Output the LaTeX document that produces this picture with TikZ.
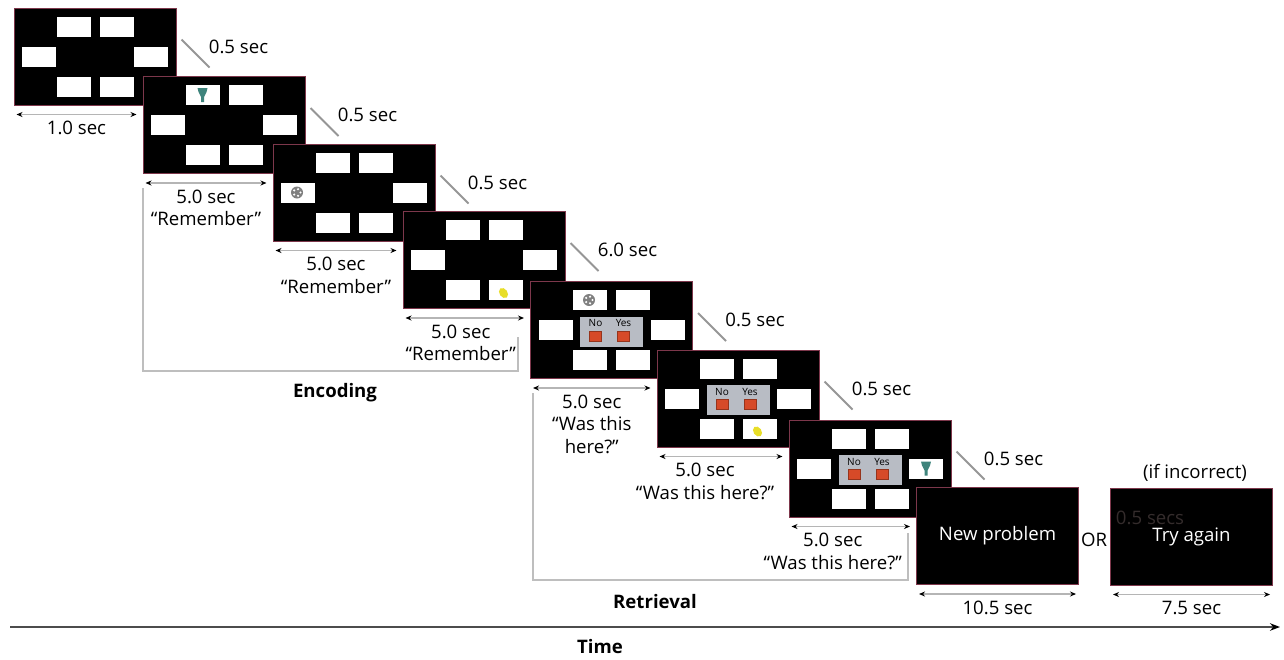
\documentclass[tikz,border=0pt]{standalone}
\usepackage{fontspec}
\setmainfont{Open Sans}
\usetikzlibrary{arrows.meta,positioning,calc}

\definecolor{scrborder}{RGB}{125,55,75}
\definecolor{panelgray}{RGB}{184,188,196}
\definecolor{btnred}{RGB}{214,74,40}
\definecolor{icongreen}{RGB}{62,132,124}
\definecolor{iconyellow}{RGB}{232,222,40}
\definecolor{linegray}{RGB}{150,150,150}
\definecolor{brkgray}{RGB}{190,190,190}
\definecolor{faint}{RGB}{52,44,44}

\begin{document}
\begin{tikzpicture}[
	x = 0.5pt, y = -0.5pt, % one unit is one pixel of the layout
	font = \fontsize{9.3}{11.3}\selectfont,
	scr/.style={rectangle, fill=black, draw=scrborder, line width=0.5pt, minimum width=81pt, minimum height=48.5pt, inner sep=0pt, text=white},
	slot/.style={rectangle, fill=white, minimum width=17pt, minimum height=10pt, inner sep=0pt},
	panel/.style={rectangle, fill=panelgray, minimum width=31.5pt, minimum height=15pt, inner sep=0pt},
	btn/.style={rectangle, fill=btnred, draw=btnred!70!black, line width=0.3pt, minimum width=6pt, minimum height=5pt, inner sep=0pt},
	btnlbl/.style={font=\fontsize{5}{6}\selectfont, inner sep=0pt},
	gap/.style={draw=linegray, line width=1pt},
	dur/.style={draw=linegray!70, line width=0.8pt, arrows={Stealth[black,length=3pt,width=2.5pt]-Stealth[black,length=3pt,width=2.5pt]}},
	lbl/.style={align=center, inner sep=1pt, anchor=north, yshift=-2pt},
	brk/.style={draw=brkgray, line width=0.8pt},
	phase/.style={font=\bfseries\fontsize{9.3}{11}\selectfont},
	]

	\useasboundingbox (0,0) rectangle (1284,659);

	% Screens
	\node[scr] (s1) at (95,56.5) {};
	\node[scr] (s2) at (224,125) {};
	\node[scr] (s3) at (354,192.5) {};
	\node[scr] (s4) at (484,260) {};
	\node[scr] (s5) at (611.5,330) {};
	\node[scr] (s6) at (738,398.5) {};
	\node[scr] (s7) at (870,468.5) {};
	\node[scr] (s8) at (997.5,536) {New problem};
	\node[scr] (s9) at (1191.5,536.5) {Try again};

	% White slots of the grid
	\foreach \s in {1,...,7}
		\foreach \dx/\dy [count=\k] in {-21.5/-30, 21.5/-30, -56/0, 56/0, -21.5/30, 21.5/30}
			\node[slot] (b\s-\k) at ([shift={(\dx,\dy)}]s\s.center) {};

	% No / Yes panel of the retrieval screens
	\foreach \s in {5,6,7} {
		\node[panel] (p\s) at ([shift={(0,1.5)}]s\s.center) {};
		\node[btn] (no\s) at ([shift={(-16,6)}]s\s.center) {};
		\node[btn] (yes\s) at ([shift={(12,6)}]s\s.center) {};
		\node[btnlbl] (nol\s) at ([shift={(-16,-7)}]s\s.center) {No};
		\node[btnlbl] (yesl\s) at ([shift={(12,-7)}]s\s.center) {Yes};
	}

	% Objects in the slots
	\foreach \b in {b2-1, b7-4}
		\fill[icongreen] ([shift={(-5,-7)}]\b.center) -- ++(10,0) -- ++(-1,4) -- ++(-2.5,5) -- ++(0,5) -- ++(-3,0) -- ++(0,-5) -- ++(-2.5,-5) -- cycle;
	\foreach \b in {b3-3, b5-1} {
		\fill[gray] ([shift={(-1,0)}]\b.center) circle[radius=6];
		\foreach \a in {0,72,...,288}
			\fill[white] ([shift={(-1,0)}]\b.center) ++(\a:3.5) circle[radius=1.2];
	}
	\foreach \b in {b4-6, b6-6}
		\fill[iconyellow] ([shift={(-2,3)}]\b.center) ellipse[x radius=4, y radius=5.5, rotate=35];

	% Gaps between screens
	\foreach \i/\t in {1/0.5, 2/0.5, 3/0.5, 4/6.0, 5/0.5, 6/0.5, 7/0.5} {
		\draw[gap] ($(s\i.north east)+(5,32)$) coordinate (g\i a) -- ($(s\i.north east)+(33,60)$) coordinate (g\i b);
		\node[anchor=west, inner sep=0pt] (t\i) at ($(s\i.north east)+(32,39)$) {\t\ sec};
	}

	% Durations
	\foreach \i/\j/\sh/\txt in {1/2/0pt/{1.0 sec}, 2/3/0pt/{5.0 sec\\“Remember”}, 3/4/0pt/{5.0 sec\\“Remember”}, 4/5/-2pt/{5.0 sec\\“Remember”},
			5/6/0pt/{5.0 sec\\“Was this\\here?”}, 6/7/-8pt/{5.0 sec\\“Was this here?”}, 7/8/-9pt/{5.0 sec\\“Was this here?”}}
		\draw[dur] ($(s\i.south west)+(3,9)$) coordinate (d\i a) -- node[lbl, xshift=\sh] (l\i) {\txt} ($(s\i.south west -| s\j.west)+(-6,9)$) coordinate (d\i b);
	\foreach \i/\txt in {8/{10.5 sec}, 9/{7.5 sec}}
		\draw[dur] ($(s\i.south west)+(3,9)$) coordinate (d\i a) -- node[lbl] (l\i) {\txt} ($(s\i.south east)+(-3,9)$) coordinate (d\i b);

	% Extra texts of the last screens
	\node (or) at (1094,540) {OR};
	\node (incorrect) at (1195,473) {(if incorrect)};
	\node[text=faint] (secs) at (1150,518) {0.5 secs};

	% Phases
	\coordinate (enctop) at (143,188);
	\coordinate (encbot) at (518,371);
	\coordinate (encend) at (518,337);
	\draw[brk] (enctop) |- (encbot) -- (encend);
	\node[phase] (enc) at (335,393) {Encoding};

	\coordinate (rettop) at (533,393);
	\coordinate (retbot) at (908,580);
	\coordinate (retend) at (908,533);
	\draw[brk] (rettop) |- (retbot) -- (retend);
	\node[phase] (ret) at (655,602) {Retrieval};

	% Time axis
	\coordinate (t0) at (10,627);
	\coordinate (t1) at (1280,627);
	\draw[draw=black!70, line width=1pt, -{Stealth[black,length=5pt]}] (t0) -- (t1);
	\node[phase] (time) at (600,647) {Time};
\end{tikzpicture}
\end{document}
